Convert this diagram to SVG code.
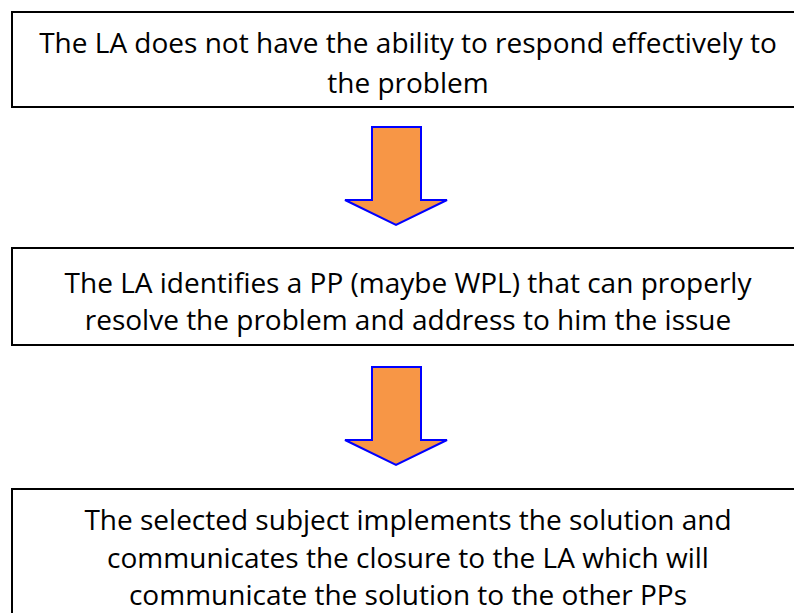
<svg xmlns="http://www.w3.org/2000/svg" width="794" height="613" viewBox="0 0 794 613">
<style>
.box{fill:#fff;stroke:#000;stroke-width:2}
.t{font-family:"Open Sans","Liberation Sans",sans-serif;font-size:28px;fill:#000;text-anchor:middle}
.arr{fill:#f79646;stroke:#0000ff;stroke-width:2;stroke-linejoin:miter}
</style>
<rect width="794" height="613" fill="#fff"/>
<g id="node1">
<rect class="box" x="12" y="12" width="800" height="95"/>
<text class="t" x="408" y="53">The LA does not have the ability to respond effectively to</text>
<text class="t" x="408" y="93">the problem</text>
</g>
<g id="node2">
<rect class="box" x="12" y="248" width="800" height="97"/>
<text class="t" x="408" y="293">The LA identifies a PP (maybe WPL) that can properly</text>
<text class="t" x="408" y="330">resolve the problem and address to him the issue</text>
</g>
<g id="node3">
<rect class="box" x="12" y="489" width="800" height="140"/>
<text class="t" x="408" y="530">The selected subject implements the solution and</text>
<text class="t" x="408" y="568">communicates the closure to the LA which will</text>
<text class="t" x="408" y="605">communicate the solution to the other PPs</text>
</g>
<g id="connectors">
<polygon class="arr" points="372,127 421,127 421,200 447,200 396,225 345,200 372,200"/>
<polygon class="arr" points="372,367 421,367 421,440 447,440 396,465 345,440 372,440"/>
</g>
</svg>
